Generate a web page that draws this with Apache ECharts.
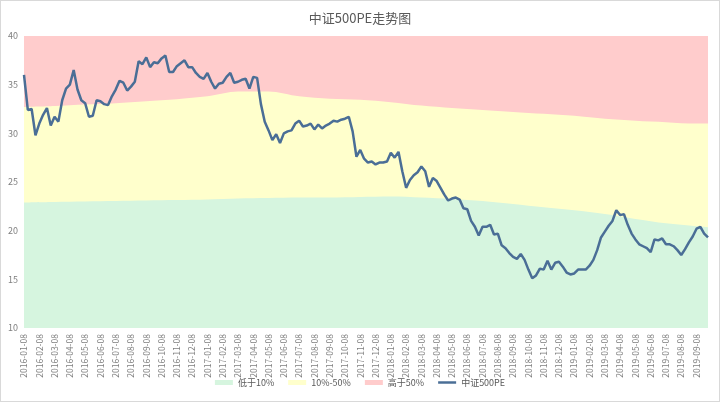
<!DOCTYPE html>
<html>
<head>
<meta charset="utf-8">
<title>中证500PE走势图</title>
<script src="https://cdn.jsdelivr.net/npm/echarts/dist/echarts.min.js"></script>
<style>
  html, body { margin: 0; padding: 0; background: #fff; }
  #main { width: 718px; height: 400px; border: 1px solid #d9d9d9; }
</style>
</head>
<body>
<div id="main"></div>
<script>
// month tick labels (one every 4 weekly points)
var months = [
  '2016-01-08','2016-02-08','2016-03-08','2016-04-08','2016-05-08','2016-06-08',
  '2016-07-08','2016-08-08','2016-09-08','2016-10-08','2016-11-08','2016-12-08',
  '2017-01-08','2017-02-08','2017-03-08','2017-04-08','2017-05-08','2017-06-08',
  '2017-07-08','2017-08-08','2017-09-08','2017-10-08','2017-11-08','2017-12-08',
  '2018-01-08','2018-02-08','2018-03-08','2018-04-08','2018-05-08','2018-06-08',
  '2018-07-08','2018-08-08','2018-09-08','2018-10-08','2018-11-08','2018-12-08',
  '2019-01-08','2019-02-08','2019-03-08','2019-04-08','2019-05-08','2019-06-08',
  '2019-07-08','2019-08-08','2019-09-08'
];

// weekly PE values
var pe = [
  36.0, 32.4, 32.5, 29.8, 31.0, 31.9, 32.6, 30.8, 31.7, 31.2,
  33.4, 34.6, 35.0, 36.5, 34.5, 33.4, 33.1, 31.7, 31.8, 33.4,
  33.3, 33.0, 32.9, 33.8, 34.5, 35.4, 35.2, 34.4, 34.8, 35.3,
  37.4, 37.1, 37.8, 36.8, 37.3, 37.2, 37.7, 38.0, 36.3, 36.3,
  36.9, 37.2, 37.5, 36.8, 36.8, 36.2, 35.8, 35.6, 36.2, 35.3,
  34.6, 35.1, 35.2, 35.8, 36.2, 35.2, 35.3, 35.5, 35.6, 34.6,
  35.8, 35.7, 33.0, 31.2, 30.3, 29.3, 29.9, 29.0, 30.0, 30.2,
  30.3, 31.0, 31.3, 30.7, 30.8, 31.0, 30.4, 30.9, 30.5, 30.8,
  31.0, 31.3, 31.2, 31.4, 31.5, 31.7, 30.2, 27.6, 28.3, 27.4,
  27.0, 27.1, 26.8, 27.0, 27.0, 27.1, 28.0, 27.5, 28.1, 26.1,
  24.4, 25.2, 25.7, 26.0, 26.6, 26.1, 24.5, 25.4, 25.1, 24.4,
  23.7, 23.1, 23.3, 23.4, 23.2, 22.3, 22.2, 21.0, 20.4, 19.5,
  20.4, 20.4, 20.6, 19.6, 19.7, 18.5, 18.2, 17.7, 17.3, 17.1,
  17.6, 17.0, 16.0, 15.1, 15.4, 16.1, 16.0, 16.9, 16.0, 16.7,
  16.8, 16.3, 15.7, 15.5, 15.6, 16.0, 16.0, 16.0, 16.4, 17.0,
  18.0, 19.3, 19.9, 20.5, 21.0, 22.1, 21.6, 21.7, 20.6, 19.7,
  19.1, 18.6, 18.4, 18.2, 17.8, 19.1, 19.0, 19.2, 18.6, 18.6,
  18.4, 18.0, 17.5, 18.1, 18.8, 19.4, 20.2, 20.4, 19.7, 19.3
];

// band boundaries sampled every two months (month index from 2016-01)
var bandMonths = [0, 2, 4, 6, 8, 10, 12, 14, 16, 18, 20, 22, 24, 26, 28, 30, 32, 34, 36, 38, 40, 42, 44, 44.75];
var pct10 = [22.9, 22.95, 23.0, 23.05, 23.1, 23.15, 23.2, 23.3, 23.35, 23.4, 23.4, 23.45,
             23.5, 23.4, 23.25, 23.05, 22.75, 22.4, 22.1, 21.7, 21.2, 20.75, 20.45, 20.35];
var pct50 = [32.7, 32.8, 32.95, 33.1, 33.3, 33.5, 33.8, 34.3, 34.3, 33.8, 33.55, 33.45,
             33.2, 32.85, 32.6, 32.4, 32.2, 32.0, 31.8, 31.5, 31.3, 31.15, 31.0, 31.0];
var topValue = 40;

var lastX = pe.length - 1;
function bandData(arr) {
  return bandMonths.map(function (m, i) { return [Math.min(m * 4, lastX), arr[i]]; });
}

var myChart = echarts.init(document.getElementById('main'));
var areaSeries = function (name, color, data) {
  return {
    name: name,
    type: 'line',
    data: data,
    smooth: 0.3,
    symbol: 'none',
    silent: true,
    itemStyle: { color: color },
    lineStyle: { width: 0, color: color },
    areaStyle: { color: color, opacity: 1, origin: 'start' }
  };
};

myChart.setOption({
  animation: false,
  textStyle: { fontFamily: '"Noto Sans CJK SC", "Noto Sans", sans-serif' },
  title: {
    text: '中证500PE走势图',
    left: 'center',
    top: 6,
    textStyle: { fontSize: 13, fontWeight: 'normal', color: '#595959' }
  },
  legend: {
    bottom: 9,
    left: 'center',
    itemWidth: 18,
    itemHeight: 5,
    itemGap: 14,
    textStyle: { fontSize: 9, color: '#595959' },
    data: [
      { name: '低于10%', icon: 'rect' },
      { name: '10%-50%', icon: 'rect' },
      { name: '高于50%', icon: 'rect' },
      { name: '中证500PE', icon: 'path://M0,0h16v2.2h-16z' }
    ]
  },
  grid: { left: 23, right: 11, top: 35, bottom: 73 },
  xAxis: {
    type: 'value',
    min: 0,
    max: lastX,
    interval: 4,
    axisLine: { show: false },
    axisTick: { show: false },
    splitLine: { show: false },
    axisLabel: {
      rotate: 90,
      fontSize: 8.5,
      color: '#7f7f7f',
      margin: 6,
      formatter: function (v) {
        return v % 4 === 0 && months[v / 4] ? months[v / 4] : '';
      }
    }
  },
  yAxis: {
    type: 'value',
    min: 10,
    max: 40,
    interval: 5,
    axisLine: { show: false },
    axisTick: { show: false },
    splitLine: { show: false },
    axisLabel: { fontSize: 9, color: '#7f7f7f', margin: 6 }
  },
  series: [
    areaSeries('高于50%', '#ffcccc', [[0, topValue], [lastX, topValue]]),
    areaSeries('10%-50%', '#ffffcc', bandData(pct50)),
    areaSeries('低于10%', '#d6f5df', bandData(pct10)),
    {
      name: '中证500PE',
      type: 'line',
      data: pe.map(function (v, i) { return [i, v]; }),
      symbol: 'none',
      itemStyle: { color: '#4a6e96' },
      lineStyle: { width: 2.5, color: '#4a6e96' }
    }
  ]
});
</script>
</body>
</html>
